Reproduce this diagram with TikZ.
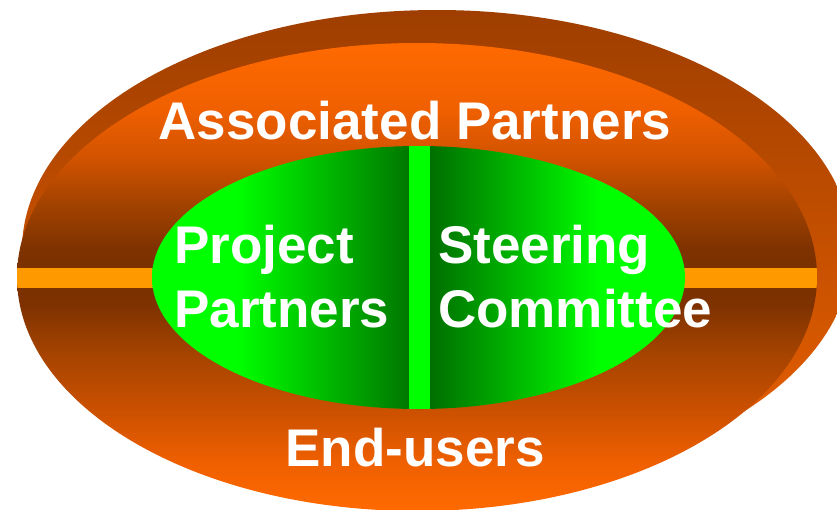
\documentclass[tikz,border=0pt]{standalone}
\usepackage{fontspec}
\setmainfont{Liberation Sans}
\usepackage{xcolor}
\usepackage{tikz}
\usetikzlibrary{positioning}

\definecolor{ringlight}{HTML}{FF6A00}
\definecolor{ringwarm}{HTML}{F06000}
\definecolor{ringmid}{HTML}{D05200}
\definecolor{ringrust}{HTML}{A44300}
\definecolor{ringbrown}{HTML}{7E3200}
\definecolor{ringdark}{HTML}{7A3000}
\definecolor{backtop}{HTML}{9E3E00}
\definecolor{backlow}{HTML}{EE6200}
\definecolor{stripe}{HTML}{FF9900}
\definecolor{leafbright}{HTML}{00FF00}
\definecolor{leafdark}{HTML}{007800}
\definecolor{leafdeep}{HTML}{006E00}

\pgfdeclareverticalshading{ringshade}{100bp}{color(0bp)=(ringlight); color(25bp)=(ringlight);
  color(30bp)=(ringwarm); color(35bp)=(ringmid); color(42bp)=(ringrust); color(47bp)=(ringbrown);
  color(50bp)=(ringdark); color(53bp)=(ringbrown); color(58bp)=(ringrust); color(62.5bp)=(ringmid);
  color(68bp)=(ringwarm); color(75bp)=(ringlight); color(100bp)=(ringlight)}

\pgfdeclarehorizontalshading{coreshade}{100bp}{color(0bp)=(leafbright); color(33bp)=(leafbright);
  color(49bp)=(leafdark); color(51bp)=(leafdeep); color(67bp)=(leafbright); color(100bp)=(leafbright)}

\tikzset{
  lbl/.style={text=white, inner sep=0pt, font=\bfseries\fontsize{53}{64}\selectfont},
}

\begin{document}
\begin{tikzpicture}[x=1pt,y=-1pt]
      \useasboundingbox (0,0) rectangle (837,509);
      \fill[white] (0,0) rectangle (837,509);

      % outer ring, back face and front face
      \shade[top color=backtop,bottom color=backlow] (437,250) ellipse [x radius=415pt,y radius=240pt];
      \shade[shading=ringshade] (417,277) ellipse [x radius=400pt,y radius=234pt];
      \begin{scope}
        \clip (417,277) ellipse [x radius=400pt,y radius=234pt];
        \fill[stripe] (0,268) rectangle (837,288);
      \end{scope}

      % inner core
      \shade[shading=coreshade] (418.5,277.5) ellipse [x radius=266.5pt,y radius=131.5pt];
      \fill[leafbright] (409,146) rectangle (430,409);

      \node[lbl,anchor=base] (assoc) at (415,139) {Associated Partners};
      \node[lbl,anchor=base] (endusers) at (415,466) {End-users};
      \node[lbl,anchor=base west,align=left] (project) at (174,327) {Project\\Partners};
      \node[lbl,anchor=base west,align=left] (steering) at (438,327) {Steering\\Committee};
    \end{tikzpicture}
\end{document}
